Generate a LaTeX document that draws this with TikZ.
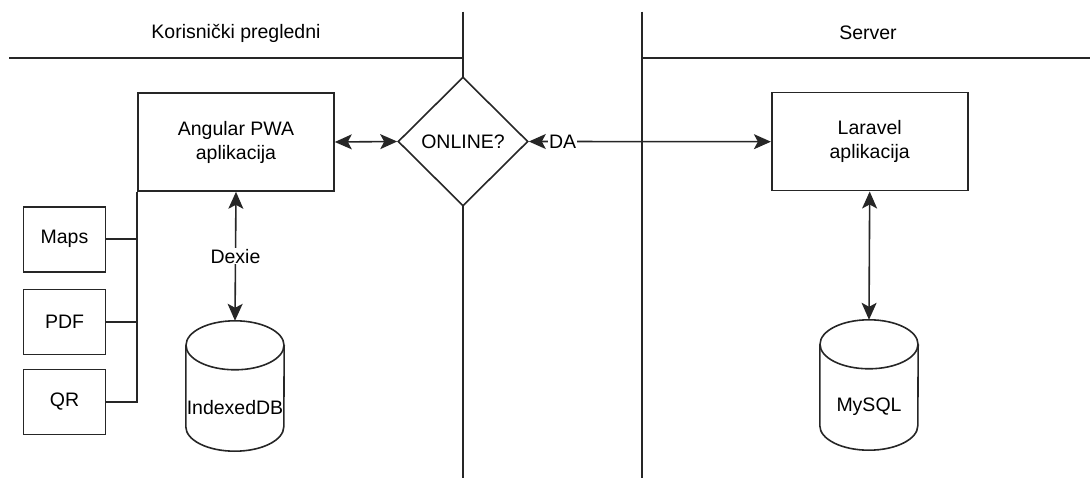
\documentclass[tikz,border=0pt]{standalone}
\usepackage{fontspec}
\setmainfont{Liberation Sans}
\usetikzlibrary{shapes.geometric,arrows.meta}

\begin{document}
\begin{tikzpicture}[x=1pt,y=-1pt,
		every node/.style={font=\fontsize{19.5}{24}\selectfont},
		line/.style={line width=1.6pt, draw=black!85},
		box/.style={line, rectangle, minimum width=196, minimum height=98, align=center, inner sep=0pt, fill=white},
		small/.style={line, rectangle, minimum width=82, minimum height=65, inner sep=0pt},
		db/.style={rectangle, minimum width=98, minimum height=130, inner sep=0pt},
		tip/.tip={Stealth[length=17pt,width=15pt,inset=4pt]},
		both/.style={line, tip-tip},
		lbl/.style={fill=white, inner sep=1pt}]
		\useasboundingbox (0,0) rectangle (1090,478);

		\draw[line] (9,58) -- (463,58);
		\draw[line] (641.7,58) -- (1090,58);
		\foreach \x in {463, 641.7} {\draw[line] (\x,11.7) -- (\x,478);}

		\node (lane1) at (236,33) {Korisnički pregledni};
		\node (lane2) at (868,33) {Server};

		\node[box] (app) at (236,142) {Angular PWA\\aplikacija};
		\node[line, diamond, fill=white, minimum width=130, minimum height=129, inner sep=0pt] (online) at (463,141.5) {ONLINE?};
		\node[box] (laravel) at (869.7,141.7) {Laravel\\aplikacija};

		\foreach \n/\t/\y in {maps/Maps/239.3, pdf/PDF/322, qr/QR/402} {\node[small] (\n) at (64.5,\y) {\t};}

		\draw[line] (app.south west) |- (qr.east);
		\draw[line] (maps.east) -- (maps.east -| app.west);
		\draw[line] (pdf.east) -- (pdf.east -| app.west);

		\node[db] (idb) at (235,386) {};
		\node[db] (sql) at (869,385) {};
		\foreach \d in {idb, sql} {
			\draw[line] ([yshift=-24.5pt]\d.north west) -- ([yshift=24.5pt]\d.south west) arc[start angle=180, end angle=360, x radius=49pt, y radius=24.5pt] -- ([yshift=-24.5pt]\d.north east);
			\draw[line] ([yshift=-24.5pt]\d.north) ellipse[x radius=49pt, y radius=24.5pt];
		}
		\node (idbtext) at ([yshift=-22pt]idb.center) {IndexedDB};
		\node (sqltext) at ([yshift=-22pt]sql.center) {MySQL};

		\draw[both] (app.east) -- (online.west);
		\draw[both] (online.east) -- node[lbl, pos=0.14] (da) {DA} (laravel.west);
		\draw[both] (app.south) -- node[lbl] (dexie) {Dexie} (idb.north);
		\draw[both] (laravel.south) -- (sql.north);
	\end{tikzpicture}
\end{document}
